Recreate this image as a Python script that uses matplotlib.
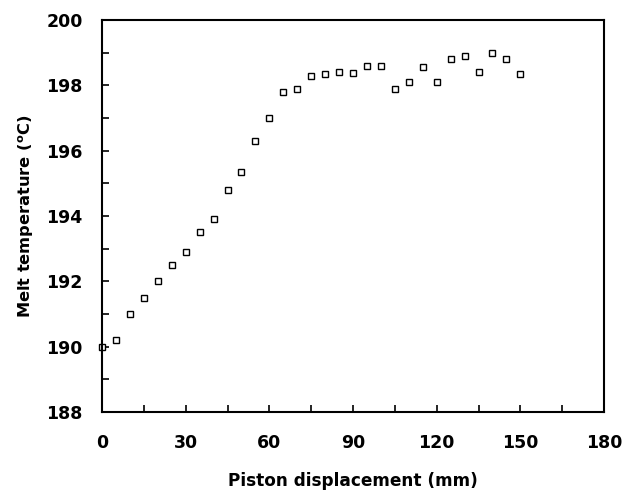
import numpy as np
import matplotlib.pyplot as plt
from matplotlib.ticker import MultipleLocator

plt.rcParams['font.family'] = ['DejaVu Sans']
plt.rcParams['font.weight'] = 'bold'

# piston displacement (mm) and melt temperature (C)
disp = np.arange(0, 151, 5)
temp = np.array([190.0, 190.2, 191.0, 191.5, 192.0, 192.5, 192.9, 193.5, 193.9,
                 194.8, 195.35, 196.3, 197.0, 197.8, 197.9, 198.3, 198.35, 198.4,
                 198.37, 198.6, 198.6, 197.9, 198.1, 198.55, 198.1, 198.8, 198.9,
                 198.4, 199.0, 198.8, 198.35])

fig = plt.figure(figsize=(6.24, 4.9), dpi=100)
ax = fig.add_axes([0.1635, 0.159, 0.8045, 0.8])

ax.plot(disp, temp, 's', mfc='white', mec='black', ms=5, mew=1, clip_on=False)

ax.set_xlim(0, 180)
ax.set_ylim(188, 200)
ax.xaxis.set_major_locator(MultipleLocator(30))
ax.xaxis.set_minor_locator(MultipleLocator(15))
ax.yaxis.set_major_locator(MultipleLocator(2))
ax.yaxis.set_minor_locator(MultipleLocator(1))
ax.tick_params(which='both', direction='in', length=5, width=1.2)
ax.tick_params(which='major', labelsize=12.5)
ax.tick_params(axis='x', which='major', pad=16)
ax.tick_params(axis='y', which='major', pad=14)
for s in ax.spines.values():
    s.set_linewidth(1.5)

ax.set_xlabel('Piston displacement (mm)', fontsize=12.2, fontweight='bold', labelpad=14)
ax.set_ylabel(r'Melt temperature ($^\mathbf{o}$C)', fontsize=11.7, fontweight='bold', labelpad=7)

plt.savefig('out.png', dpi=100)
